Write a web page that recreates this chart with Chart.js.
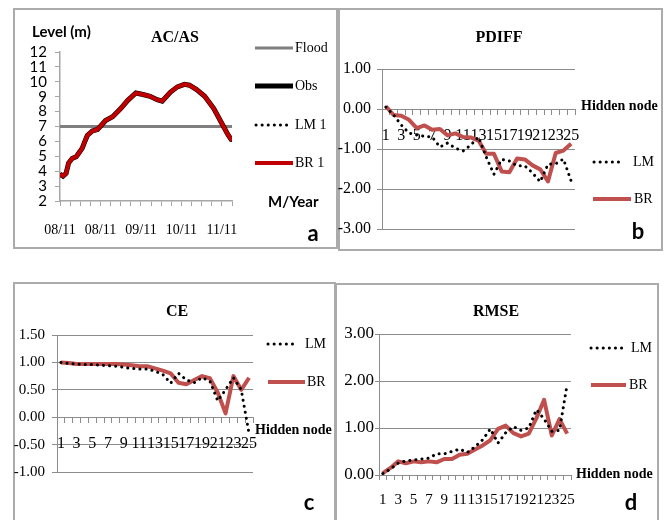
<!DOCTYPE html>
<html>
<head>
<meta charset="utf-8">
<script src="https://cdn.jsdelivr.net/npm/chart.js@4.4.1/dist/chart.umd.min.js"></script>
<style>
html,body{margin:0;padding:0;background:#fff;}
body{width:672px;height:520px;position:relative;overflow:hidden;}
.panel{position:absolute;border:2px solid #ababab;box-sizing:border-box;}
canvas{position:absolute;}
</style>
</head>
<body>
<div class="panel" style="left:13px;top:8px;width:325px;height:241px"></div>
<div class="panel" style="left:338px;top:8px;width:325px;height:243px"></div>
<div class="panel" style="left:13px;top:282px;width:323px;height:250px"></div>
<div class="panel" style="left:335px;top:283px;width:324px;height:250px"></div>
<canvas id="chA" width="325" height="241" style="left:13px;top:8px"></canvas>
<canvas id="chB" width="325" height="243" style="left:338px;top:8px"></canvas>
<canvas id="chC" width="323" height="238" style="left:13px;top:282px"></canvas>
<canvas id="chD" width="324" height="237" style="left:335px;top:283px"></canvas>
<script>
// panel a : water level (x in tick units along the date axis)
const acasTime  = [0, 0.3, 0.6, 0.85, 1.2, 1.6, 1.95, 2.2, 2.4, 2.7, 3.2, 3.7, 4.0, 4.5, 5.2, 6.0, 6.7, 7.5, 8.2, 8.9, 9.6, 10.1, 10.9, 11.6, 12.3, 12.8, 13.5, 14.3, 15.2, 16.0, 16.6, 17.0];
const acasLevel = [3.8, 3.67, 3.85, 4.55, 4.85, 4.97, 5.3, 5.55, 5.9, 6.4, 6.7, 6.8, 7.02, 7.4, 7.65, 8.2, 8.76, 9.25, 9.15, 9.03, 8.8, 8.7, 9.3, 9.66, 9.83, 9.77, 9.48, 9.03, 8.2, 7.2, 6.45, 6.05];
const floodX = [0, 17];
const floodLevel = [7, 7];
const monthTickPos = [0, 4, 8, 12, 16];
const monthTickLabels = ['08/11', '08/11', '09/11', '10/11', '11/11'];

// panels b, c, d : hidden nodes
const hiddenNodes = [1, 2, 3, 4, 5, 6, 7, 8, 9, 10, 11, 12, 13, 14, 15, 16, 17, 18, 19, 20, 21, 22, 23, 24, 25];
const pdiffLM = [0.05, -0.15, -0.40, -0.60, -0.65, -0.68, -0.70, -0.95, -0.85, -0.98, -1.05, -0.90, -0.70, -1.20, -1.63, -1.26, -1.30, -1.42, -1.42, -1.60, -1.82, -1.38, -1.37, -1.25, -1.80];
const pdiffBR = [0.07, -0.15, -0.17, -0.27, -0.48, -0.41, -0.52, -0.50, -0.66, -0.61, -0.70, -0.71, -0.79, -1.12, -1.12, -1.56, -1.58, -1.24, -1.26, -1.41, -1.51, -1.81, -1.10, -1.04, -0.87];
const ceLM = [1.00, 0.98, 0.97, 0.96, 0.96, 0.95, 0.94, 0.93, 0.91, 0.89, 0.88, 0.88, 0.84, 0.78, 0.62, 0.80, 0.68, 0.63, 0.72, 0.66, 0.30, 0.50, 0.72, 0.50, -0.30];
const ceBR = [1.00, 0.99, 0.97, 0.97, 0.97, 0.97, 0.97, 0.97, 0.96, 0.95, 0.93, 0.93, 0.89, 0.85, 0.80, 0.63, 0.60, 0.68, 0.75, 0.71, 0.45, 0.07, 0.75, 0.50, 0.72];
const rmseLM = [0.03, 0.13, 0.25, 0.30, 0.32, 0.34, 0.36, 0.45, 0.45, 0.50, 0.55, 0.48, 0.60, 0.75, 0.98, 0.68, 0.90, 1.03, 0.95, 1.00, 1.39, 1.19, 0.93, 0.95, 1.93];
const rmseBR = [0.04, 0.15, 0.29, 0.25, 0.29, 0.27, 0.29, 0.27, 0.34, 0.34, 0.43, 0.45, 0.54, 0.63, 0.74, 0.98, 1.05, 0.89, 0.82, 0.88, 1.21, 1.60, 0.84, 1.19, 0.88];

const SERIF = '"Liberation Serif", "Times New Roman", serif';
const SANS = 'Lato, "Liberation Sans", Arial, sans-serif';
const RED = '#c0504d';
const GRID = '#8c8c8c';
const AXIS = '#a6a6a6';

// legend keys + loose labels, given in page coords
function decor(cfg){
  return {
    id: 'decor',
    afterDraw(chart){
      const ctx = chart.ctx;
      ctx.save();
      ctx.translate(-cfg.ox, -cfg.oy);
      cfg.keys.forEach(k=>{
        const ds = chart.data.datasets[k.ds];
        ctx.beginPath();
        ctx.strokeStyle = ds.borderColor;
        ctx.lineWidth = k.lw || ds.borderWidth;
        ctx.lineCap = ds.borderCapStyle || 'butt';
        ctx.setLineDash(ds.borderDash || []);
        ctx.moveTo(k.x, k.y);
        ctx.lineTo(k.x + k.w, k.y);
        ctx.stroke();
        ctx.setLineDash([]);
        ctx.fillStyle = '#000';
        ctx.font = '14px ' + SERIF;
        ctx.textAlign = 'left';
        ctx.textBaseline = 'middle';
        ctx.fillText(ds.label, k.tx, k.y);
      });
      cfg.texts.forEach(t=>{
        ctx.fillStyle = '#000';
        ctx.font = t.font;
        ctx.textAlign = t.align || 'left';
        ctx.textBaseline = 'middle';
        ctx.fillText(t.text, t.x, t.y);
      });
      ctx.restore();
    }
  };
}

const toPts = (xs, ys) => xs.map((x, i) => ({x: x, y: ys[i]}));

new Chart(document.getElementById('chA'), {
  type: 'line',
  data: {
    datasets: [
      {label: 'Flood', data: toPts(floodX, floodLevel), borderColor: '#7f7f7f', borderWidth: 3, pointRadius: 0, order: 4},
      {label: 'Obs', data: toPts(acasTime, acasLevel), borderColor: '#000', borderWidth: 5, pointRadius: 0, order: 3},
      {label: 'LM 1', data: toPts(acasTime, acasLevel), borderColor: '#000', borderWidth: 3, borderDash: [0.1, 6], borderCapStyle: 'round', pointRadius: 0, order: 2},
      {label: 'BR 1', data: toPts(acasTime, acasLevel), borderColor: '#c00000', borderWidth: 4, borderJoinStyle: 'round', pointRadius: 0, order: 1}
    ]
  },
  options: {
    responsive: false, animation: false, events: [],
    layout: {padding: {left: 0, top: 44, right: 106, bottom: 0}},
    plugins: {legend: {display: false}, tooltip: {enabled: false}},
    scales: {
      x: {
        type: 'linear', min: 0, max: 17,
        grid: {drawOnChartArea: false, tickLength: 5, color: AXIS},
        border: {color: AXIS, width: 1.5},
        ticks: {stepSize: 1, autoSkip: false, maxRotation: 0, padding: 16, color: '#000', font: {family: SERIF, size: 14},
          callback: v => { const i = monthTickPos.indexOf(v); return i < 0 ? '' : monthTickLabels[i]; }},
        afterFit: s => { s.height = 48; }
      },
      y: {
        min: 2, max: 12,
        grid: {drawOnChartArea: false, tickLength: 5, color: AXIS},
        border: {color: AXIS, width: 1.5},
        ticks: {stepSize: 1, autoSkip: false, padding: 8, color: '#000', font: {family: SANS, size: 15}},
        afterFit: s => { s.width = 47; }
      }
    }
  },
  plugins: [decor({ox: 13, oy: 8,
    keys: [
      {ds: 0, x: 255, y: 48, w: 38, tx: 295},
      {ds: 1, x: 255, y: 86, w: 38, tx: 295},
      {ds: 2, x: 256, y: 125, w: 36, tx: 295},
      {ds: 3, x: 255, y: 163, w: 38, tx: 295}
    ],
    texts: [
      {text: 'Level (m)', x: 32, y: 32, font: 'bold 15px ' + SANS},
      {text: 'AC/AS', x: 175, y: 38, font: 'bold 16px ' + SERIF, align: 'center'},
      {text: 'M/Year', x: 268, y: 202, font: 'bold 15px ' + SANS},
      {text: 'a', x: 313, y: 234, font: 'bold 22px ' + SANS, align: 'center'}
    ]})]
});

function metricChart(c){
  const pad = {left: 0, top: c.area.top, right: c.area.right, bottom: c.atZero ? c.area.bottom : 0};
  return new Chart(document.getElementById(c.id), {
    type: 'line',
    data: {
      labels: hiddenNodes,
      datasets: [
        {label: 'LM', data: c.lm, borderColor: '#000', borderWidth: 3, borderDash: [0.1, 6], borderCapStyle: 'round', pointRadius: 0},
        {label: 'BR', data: c.br, borderColor: RED, borderWidth: 4, borderJoinStyle: 'round', pointRadius: 0}
      ]
    },
    options: {
      responsive: false, animation: false, events: [],
      layout: {padding: pad},
      plugins: {legend: {display: false}, tooltip: {enabled: false}},
      scales: {
        x: {
          type: 'category', offset: true,
          position: c.atZero ? {y: 0} : 'bottom',
          grid: {offset: true, drawOnChartArea: false, tickLength: 5, color: GRID},
          border: {color: GRID},
          ticks: {autoSkip: false, maxRotation: 0, minRotation: 0, padding: c.xPad, color: '#000', font: {family: SERIF, size: c.xSize},
            callback: (v, i) => i % 2 === 0 ? String(hiddenNodes[i]) : ''},
          afterFit: s => { s.height = c.atZero ? 0 : c.area.bottom; }
        },
        y: {
          min: c.yMin, max: c.yMax,
          grid: {color: GRID, tickLength: c.yTick},
          border: {color: GRID},
          ticks: {stepSize: c.yStep, autoSkip: false, padding: c.yPad, color: '#000', font: {family: SERIF, size: c.ySize},
            callback: v => v.toFixed(2)},
          afterFit: s => { s.width = c.area.left; }
        }
      }
    },
    plugins: [decor(c.deco)]
  });
}

metricChart({id: 'chB', lm: pdiffLM, br: pdiffBR, atZero: true,
  area: {left: 44, top: 61, right: 88, bottom: 22},
  yMin: -3, yMax: 1, yStep: 1, ySize: 16, yPad: 6, yTick: 5, xSize: 16, xPad: 12,
  deco: {ox: 338, oy: 8,
    keys: [{ds: 0, x: 594, y: 162, w: 30, tx: 633}, {ds: 1, x: 593, y: 199, w: 38, tx: 634}],
    texts: [
      {text: 'PDIFF', x: 499, y: 38, font: 'bold 16px ' + SERIF, align: 'center'},
      {text: 'Hidden node', x: 581, y: 106, font: 'bold 14px ' + SERIF},
      {text: 'b', x: 638, y: 232, font: 'bold 22px ' + SANS, align: 'center'}
    ]}});

metricChart({id: 'chC', lm: ceLM, br: ceBR, atZero: true,
  area: {left: 44, top: 53, right: 83, bottom: 48},
  yMin: -1, yMax: 1.5, yStep: 0.5, ySize: 15, yPad: 7, yTick: 5, xSize: 16, xPad: 12,
  deco: {ox: 13, oy: 282,
    keys: [{ds: 0, x: 268, y: 344, w: 30, tx: 305}, {ds: 1, x: 268, y: 382, w: 37, tx: 307}],
    texts: [
      {text: 'CE', x: 177, y: 312, font: 'bold 16px ' + SERIF, align: 'center'},
      {text: 'Hidden node', x: 255, y: 430, font: 'bold 14px ' + SERIF},
      {text: 'c', x: 309, y: 503, font: 'bold 22px ' + SANS, align: 'center'}
    ]}});

metricChart({id: 'chD', lm: rmseLM, br: rmseBR, atZero: false,
  area: {left: 44, top: 51, right: 88, bottom: 45},
  yMin: 0, yMax: 3, yStep: 1, ySize: 17, yPad: 1, yTick: 4, xSize: 15, xPad: 11,
  deco: {ox: 335, oy: 283,
    keys: [{ds: 0, x: 591, y: 348, w: 33, tx: 631}, {ds: 1, x: 591, y: 385, w: 35, tx: 629}],
    texts: [
      {text: 'RMSE', x: 496, y: 312, font: 'bold 16px ' + SERIF, align: 'center'},
      {text: 'Hidden node', x: 576, y: 474, font: 'bold 14px ' + SERIF},
      {text: 'd', x: 631, y: 503, font: 'bold 22px ' + SANS, align: 'center'}
    ]}});
</script>
</body>
</html>
